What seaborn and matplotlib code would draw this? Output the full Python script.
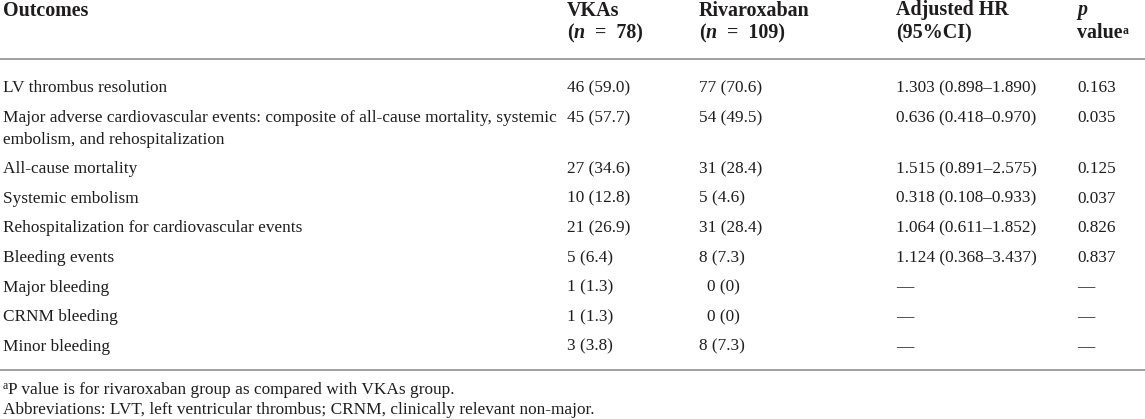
import matplotlib
matplotlib.use("Agg")
import matplotlib.pyplot as plt
import seaborn as sns

# ---------------- data ----------------
outcomes = [
    ["LV thrombus resolution"],
    ["Major adverse cardiovascular events: composite of all-cause mortality, systemic",
     "embolism, and rehospitalization"],
    ["All-cause mortality"],
    ["Systemic embolism"],
    ["Rehospitalization for cardiovascular events"],
    ["Bleeding events"],
    ["Major bleeding"],
    ["CRNM bleeding"],
    ["Minor bleeding"],
]
vka_values = ["46 (59.0)", "45 (57.7)", "27 (34.6)", "10 (12.8)", "21 (26.9)",
              "5 (6.4)", "1 (1.3)", "1 (1.3)", "3 (3.8)"]
riva_values = ["77 (70.6)", "54 (49.5)", "31 (28.4)", "5 (4.6)", "31 (28.4)",
               "8 (7.3)", "0 (0)", "0 (0)", "8 (7.3)"]
hr_values = ["1.303 (0.898\u20131.890)", "0.636 (0.418\u20130.970)", "1.515 (0.891\u20132.575)",
             "0.318 (0.108\u20130.933)", "1.064 (0.611\u20131.852)", "1.124 (0.368\u20133.437)",
             "\u2014", "\u2014", "\u2014"]
p_values = ["0.163", "0.035", "0.125", "0.037", "0.826", "0.837",
            "\u2014", "\u2014", "\u2014"]
vka_n = "78"
riva_n = "109"
footnote_a = "P value is for rivaroxaban group as compared with VKAs group."
footnote_abbr = "Abbreviations: LVT, left ventricular thrombus; CRNM, clinically relevant non-major."

# ---------------- style ----------------
sns.set_theme(style="white")
plt.rcParams['font.family'] = ['Liberation Serif', 'DejaVu Serif']
TXT = "#1f1c1d"
RULE = "#9a9a9a"
FS = 12.4
HFS = 14.4

fig = plt.figure(figsize=(11.45, 4.19), dpi=100)
ax = fig.add_axes([0, 0, 1, 1])
ax.set_xlim(0, 1145)
ax.set_ylim(419, 0)
ax.axis("off")

col_x = [3, 567, 699, 896, 1077]
off = 5.5  # centre -> baseline


def chain(prev, s, y, **kw):
    return ax.annotate(s, xy=(1, y), xycoords=(prev, "data"), va="baseline",
                       ha="left", color=TXT, annotation_clip=False, **kw)


# header
hb = dict(fontsize=HFS, fontweight="bold", color=TXT, va="baseline")
y1, y2 = 10 + off, 33 + off
ax.text(col_x[0], y1, "Outcomes", **hb)
ax.text(col_x[1], y1, "VKAs", **hb)
ax.text(col_x[2], y1, "Rivaroxaban", **hb)
ax.text(col_x[3], y1, "Adjusted HR", **hb)
ax.text(col_x[3], y2, "(95%CI)", **hb)
ax.text(col_x[4], y1, "p", fontsize=HFS, fontweight="bold", style="italic",
        color=TXT, va="baseline")
tv = ax.text(col_x[4], y2, "value", **hb)
chain(tv, "a", y2 - 5, fontsize=8.5, fontweight="bold")
for x, n in [(col_x[1], vka_n), (col_x[2], riva_n)]:
    t = ax.text(x, y2, "(", **hb)
    t = chain(t, "n", y2, fontsize=HFS, fontweight="bold", style="italic")
    t = chain(t, "  =  " + n + ")", y2, fontsize=HFS, fontweight="bold")

ax.hlines([59.5, 370], 0, 1145, color=RULE, lw=1.3)

# body
body = dict(fontsize=FS, color=TXT, va="baseline")
for i in range(len(outcomes)):
    y = 87 + 29.6 * i + (21.5 if i >= 2 else 0)
    for j, line in enumerate(outcomes[i]):
        ax.text(col_x[0], y + 22 * j + off, line, **body)
    ax.text(col_x[1], y + off, vka_values[i], **body)
    rx = col_x[2] + (8 if riva_values[i] == "0 (0)" else 0)
    ax.text(rx, y + off, riva_values[i], **body)
    ax.text(col_x[3], y + off, hr_values[i], **body)
    ax.text(col_x[4], y + off, p_values[i], **body)

# footnotes
fy = 388 + off
ta = ax.text(col_x[0], fy - 5, "a", fontsize=8.5, color=TXT, va="baseline")
chain(ta, footnote_a, fy, fontsize=FS)
ax.text(col_x[0], 408 + off, footnote_abbr, **body)

fig.savefig("out.png", dpi=100)
